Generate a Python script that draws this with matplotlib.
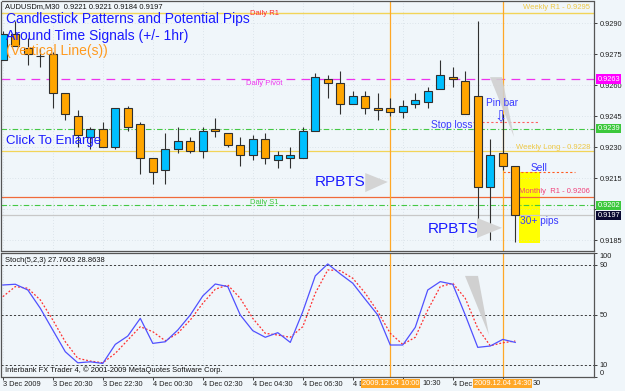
import matplotlib.pyplot as plt
import matplotlib.transforms as mtransforms
import numpy as np
from matplotlib.patches import Polygon, Rectangle

plt.rcParams['font.family'] = ['Liberation Sans', 'DejaVu Sans']

# AUDUSDm M30 candles, 3 Dec 18:30 .. 4 Dec 15:00
opens = [0.9272, 0.9285, 0.9278, 0.9274, 0.9275, 0.9256, 0.9245, 0.9235, 0.9239, 0.9230,
         0.9249, 0.9241, 0.9225, 0.9219, 0.9229, 0.9233, 0.9228, 0.9239, 0.9237, 0.9231,
         0.9226, 0.9234, 0.9224, 0.9225, 0.9225, 0.9238, 0.9263, 0.9261, 0.9251, 0.9255,
         0.9249, 0.9249, 0.9247, 0.9251, 0.9252, 0.9258, 0.9264, 0.9262, 0.9255, 0.9211,
         0.9227, 0.9221]
closes = [0.9285, 0.9279, 0.9275, 0.9274, 0.9256, 0.9246, 0.9236, 0.9239, 0.9230, 0.9249,
          0.9240, 0.9225, 0.9218, 0.9229, 0.9233, 0.9228, 0.9238, 0.9238, 0.9231, 0.9226,
          0.9234, 0.9225, 0.9226, 0.9226, 0.9238, 0.9264, 0.9261, 0.9251, 0.9255, 0.9249,
          0.9248, 0.9247, 0.9250, 0.9253, 0.9257, 0.9265, 0.9263, 0.9246, 0.9211, 0.9226,
          0.9221, 0.9197]
highs = [0.9286, 0.9291, 0.9283, 0.9278, 0.9276, 0.9256, 0.9248, 0.9240, 0.9242, 0.9249,
         0.9250, 0.9242, 0.9225, 0.9237, 0.9240, 0.9235, 0.9240, 0.9244, 0.9237, 0.9235,
         0.9236, 0.9237, 0.9228, 0.9230, 0.9240, 0.9266, 0.9265, 0.9267, 0.9257, 0.9257,
         0.9256, 0.9254, 0.9253, 0.9256, 0.9259, 0.9272, 0.9269, 0.9267, 0.9291, 0.9234,
         0.9246, 0.9221]
lows = [0.9272, 0.9279, 0.9270, 0.9269, 0.9249, 0.9243, 0.9230, 0.9229, 0.9230, 0.9229,
        0.9238, 0.9217, 0.9212, 0.9212, 0.9227, 0.9227, 0.9225, 0.9235, 0.9230, 0.9221,
        0.9224, 0.9222, 0.9220, 0.9220, 0.9225, 0.9238, 0.9254, 0.9246, 0.9251, 0.9246,
        0.9243, 0.9245, 0.9244, 0.9249, 0.9249, 0.9258, 0.9259, 0.9246, 0.9193, 0.9185,
        0.9219, 0.9184]

# Stoch(5,2,3): main (blue) and signal (red dotted)
stoch_main = [73.9, 74.5, 69.9, 55.2, 37.7, 20.3, 11.4, 12.2, 10.9, 26.2, 32.9, 47.1, 27.0, 28.3,
              37.7, 49.8, 65.1, 74.7, 72.6, 49.8, 37.2, 31.9, 35.6, 27.8, 52.5, 81.2, 90.8, 82.8,
              75.3, 62.4, 49.8, 25.7, 25.7, 39.9, 69.9, 76.6, 74.5, 49.8, 23.8, 24.9, 30.2, 27.8]
stoch_signal = [64.5, 72.6, 71.3, 61.9, 45.8, 28.3, 15.0, 12.8, 11.4, 19.0, 29.7, 40.4, 36.4, 29.1,
                35.1, 45.8, 59.2, 70.5, 73.9, 63.2, 47.1, 35.1, 33.7, 31.9, 40.4, 67.3, 86.0, 85.4,
                79.3, 67.3, 52.5, 35.1, 26.2, 31.9, 53.8, 72.6, 75.3, 63.2, 39.1, 25.1, 27.5, 28.9]

time_ticks = [0, 4, 8, 12, 16, 20, 24, 28, 32, 36, 40]
# parts of the time labels left visible next to the orange signal-time boxes
time_labels = ["3 Dec 2009", "3 Dec 20:30", "3 Dec 22:30", "4 Dec 00:30", "4 Dec 02:30",
               "4 Dec 04:30", "4 Dec 06:30", "4 D", "", "4 Dec", ""]
tail_labels = [(32, "10:30", 14.5), (40, "30", 21.5)]
price_ticks = [0.9185, 0.9200, 0.9215, 0.9230, 0.9245, 0.9260, 0.9275, 0.9290]
# 0.9200 sits behind the 0.9202 / 0.9197 marker boxes
price_labels = ["0.9185", "", "0.9215", "0.9230", "0.9245", "0.9260", "0.9275", "0.9290"]

signal_bars = [31, 40]
signal_labels = ["2009.12.04 10:00", "2009.12.04 14:30"]

weekly_r1 = 0.9295
daily_pivot = 0.9263
pivot_mid = 0.9239
weekly_long = 0.9228
monthly_r1 = 0.9206
daily_s1 = 0.9202
bid = 0.9197
stop_loss = 0.9242
sell = 0.9218

BG = '#f0f6fa'
BULL = '#00bfff'
BEAR = '#ffa500'
EDGE = '#303030'
BLUE = '#1a1aff'
VLINE = '#ffa726'
W, H = 625, 391


def rect(x0, y0, x1, y1):
    return [x0 / W, 1 - y1 / H, (x1 - x0) / W, (y1 - y0) / H]


fig = plt.figure(figsize=(W / 100, H / 100), dpi=100, facecolor=BG)
ax = fig.add_axes(rect(1.5, 1.5, 594, 251), facecolor=BG)
ax2 = fig.add_axes(rect(1.5, 252.5, 594, 377), facecolor=BG)

x = np.arange(len(opens))
o = np.array(opens)
c = np.array(closes)
colors = [BULL if cc > oo else BEAR for oo, cc in zip(o, c)]

# ---- main price panel ----
ax.vlines(x, lows, highs, color=EDGE, lw=0.8, zorder=3)
ax.bar(x, np.abs(c - o), bottom=np.minimum(o, c), width=0.64, color=colors,
       edgecolor=EDGE, linewidth=0.8, zorder=4)

ax.axhline(weekly_r1, color='#f2d458', lw=1.0, zorder=2)
ax.axhline(daily_pivot, color='#ee33ee', lw=0.9, dashes=(7, 5), zorder=2)
ax.axhline(pivot_mid, color='#44c844', lw=0.8, dashes=(5, 2, 1, 2), zorder=2)
ax.axhline(weekly_long, color='#f2d458', lw=0.9, zorder=2)
ax.axhline(monthly_r1, color='#f06a3a', lw=0.9, zorder=2)
ax.axhline(daily_s1, color='#44c844', lw=0.8, dashes=(5, 2, 1, 2), zorder=2)
ax.axhline(bid, color='#c8c8c8', lw=0.9, zorder=2)
ax.hlines(stop_loss, 37.6, 42.8, color='#ff6060', lw=0.8, linestyles=(0, (2, 2)), zorder=2)
ax.hlines(sell, 40.0, 45.8, color='#ff5a20', lw=0.8, linestyles=(0, (2, 2)), zorder=2)

for b in signal_bars:
    ax.axvline(b, color=VLINE, lw=0.9, zorder=2.5)
    ax2.axvline(b, color=VLINE, lw=0.9, zorder=2.5)

ax.add_patch(Rectangle((41.3, 0.91837), 1.7, 0.00343, fc='#ffff00', ec='none', zorder=1.5))
ax.add_patch(Polygon([(38.98, 0.92639), (39.94, 0.92639), (40.9, 0.92350)],
                     closed=True, fc='#d0d0d0', ec='none', alpha=0.9, zorder=3.5))
ax.add_patch(Polygon([(29.0, 0.92175), (29.0, 0.92083), (30.8, 0.92132)],
                     closed=True, fc='#d4d4d4', ec='none', zorder=3.5))
ax.add_patch(Polygon([(37.94, 0.91958), (37.94, 0.91861), (39.94, 0.91910)],
                     closed=True, fc='#d4d4d4', ec='none', zorder=3.5))

ax.set_xlim(-0.104, 47.3)
ax.set_ylim(0.91798, 0.93005)
ax.set_xticks(time_ticks)
ax.tick_params(axis='x', length=0, labelbottom=False)
ax.yaxis.tick_right()
ax.set_yticks(price_ticks)
ax.set_yticklabels(price_labels)
ax.tick_params(axis='y', length=2.5, width=0.6, labelsize=5.3, pad=1.5, colors='#202020')
ax.grid(True, color='#c9d3dc', ls=(0, (1, 3)), lw=0.5, zorder=0)

tr = mtransforms.blended_transform_factory(ax.transAxes, ax.transData)
for val, fc in [(daily_pivot, '#ff00ff'), (pivot_mid, '#3cc83c'), (daily_s1, '#3cc83c'),
                (bid, '#0a0a32')]:
    ax.text(1.006, val, f"{val:.4f}", transform=tr, ha='left', va='center', fontsize=5.3,
            color='white', clip_on=False, zorder=6,
            bbox=dict(boxstyle='square,pad=0.15', fc=fc, ec='none'))

ax.text(0.18, 0.92979, "AUDUSDm,M30  0.9221 0.9221 0.9184 0.9197", fontsize=5.4,
        color='#101010', va='center', zorder=6)
ax.text(0.26, 0.92921, "Candlestick Patterns and Potential Pips", fontsize=10, color=BLUE,
        va='center', zorder=6)
ax.text(0.26, 0.92839, "Around Time Signals (+/- 1hr)", fontsize=10, color=BLUE,
        va='center', zorder=6)
ax.text(0.26, 0.92766, "(Vertical Line(s))", fontsize=10, color='#ff9a1f', va='center', zorder=6)
ax.text(0.26, 0.92330, "Click To Enlarge", fontsize=9.5, color=BLUE, va='center', zorder=6)

ax.text(20.9, 0.92945, "Daily R1", fontsize=5.5, color='#ff2a2a', ha='center', va='center')
ax.text(20.9, 0.92606, "Daily Pivot", fontsize=5.5, color='#ee33ee', ha='center', va='center')
ax.text(20.9, 0.92035, "Daily S1", fontsize=5.5, color='#3cc83c', ha='center', va='center')
ax.text(46.98, 0.92974, "Weekly R1 - 0.9295", fontsize=5.5, color='#eec845', ha='right', va='center')
ax.text(46.98, 0.92301, "Weekly Long - 0.9228", fontsize=5.5, color='#eec845', ha='right', va='center')
ax.text(46.98, 0.92084, "Monthly  R1 - 0.9206", fontsize=5.5, color='#f0407a', ha='right', va='center')

ax.text(38.66, 0.92514, "Pin bar", fontsize=7.3, color='#3a3aff', va='center', zorder=6)
ax.text(39.86, 0.92448, "\u21e9", fontsize=10.5, color='#3a3aff', ha='center', va='center',
        family='DejaVu Sans', zorder=6)
ax.text(34.26, 0.92408, "Stop loss", fontsize=7.3, color='#3a3aff', va='center', zorder=6)
ax.text(42.26, 0.92200, "Sell", fontsize=7.3, color='#3a3aff', va='center', zorder=6)
ax.text(41.38, 0.91943, "30+ pips", fontsize=7.3, color='#3a3aff', va='center', zorder=6)
ax.text(24.98, 0.92132, "RPBTS", fontsize=11, color=BLUE, va='center', zorder=6)
ax.text(34.02, 0.91905, "RPBTS", fontsize=11, color=BLUE, va='center', zorder=6)

# ---- stochastic panel ----
ax2.plot(x, stoch_signal, color='#ff3030', lw=0.9, ls=(0, (1.5, 1.5)), zorder=3)
ax2.plot(x, stoch_main, color='#5050ff', lw=0.9, zorder=4)
for lvl in (90, 50, 10):
    ax2.axhline(lvl, color='#202020', lw=0.6, ls=(0, (2.5, 2.5)), zorder=2)
ax2.add_patch(Polygon([(36.98, 81.2), (38.02, 81.2), (38.9, 33.7)], closed=True,
                      fc='#d0d0d0', ec='none', zorder=2.2))

ax2.set_xlim(-0.104, 47.3)
ax2.set_ylim(0, 100)
ax2.yaxis.tick_right()
ax2.set_yticks([0, 10, 50, 90, 100])
ax2.set_yticklabels(["0", "10", "50", "90", "100"])
ax2.tick_params(axis='y', length=2.5, width=0.6, labelsize=5.3, pad=1.5, colors='#202020')
ylbls = ax2.get_yticklabels()
ylbls[0].set_va('bottom')
ylbls[-1].set_va('top')
ax2.set_xticks(time_ticks)
ax2.set_xticklabels(time_labels, ha='left')
ax2.tick_params(axis='x', length=2, width=0.6, labelsize=5.3, pad=1.2, colors='#202020')
ax2.grid(True, color='#c9d3dc', ls=(0, (1, 3)), lw=0.5, zorder=0)

trx = mtransforms.blended_transform_factory(ax2.transData, ax2.transAxes)
for b, lbl, off in tail_labels:
    ax2.annotate(lbl, xy=(b, 0), xycoords=trx, xytext=(off, -2.4),
                 textcoords='offset points', ha='left', va='top', fontsize=5.3,
                 color='#202020', annotation_clip=False)

ax2.text(0.18, 93.2, "Stoch(5,2,3) 27.7603 28.8638", fontsize=5.4, color='#101010', va='center')
ax2.text(0.18, 5.6, "Interbank FX Trader 4, \u00a9 2001-2009 MetaQuotes Software Corp.",
         fontsize=5.4, color='#101010', va='center')

for b, lbl in zip(signal_bars, signal_labels):
    ax2.text(b, -0.05, lbl, transform=trx, ha='center', va='center', fontsize=5.3,
             color='white', clip_on=False, zorder=8,
             bbox=dict(boxstyle='square,pad=0.12', fc=VLINE, ec='none'))

for a in (ax, ax2):
    for s in a.spines.values():
        s.set_color('#555555')
        s.set_linewidth(0.9)

fig.savefig('out.png', dpi=100, facecolor=BG)
